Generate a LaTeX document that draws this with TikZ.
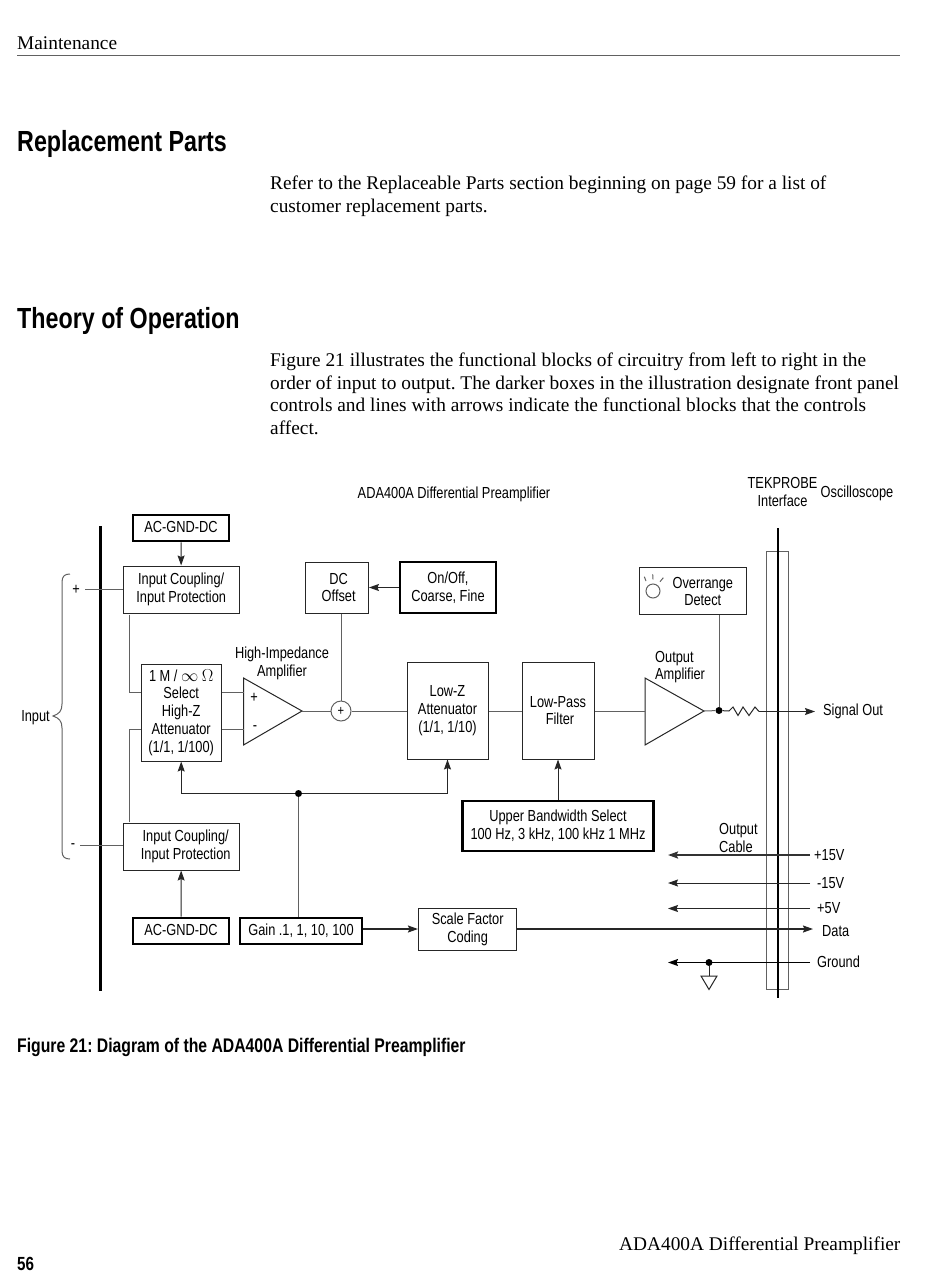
\documentclass[tikz,border=0pt]{standalone}
\usepackage{fontspec}
\setmainfont{Liberation Serif}
\newfontfamily\narrowsans[FakeStretch=0.80]{Liberation Sans}
\newfontfamily\headsans[FakeStretch=0.80]{Liberation Sans Bold}
\usetikzlibrary{arrows.meta}
\definecolor{linegray}{gray}{0.38}
\frenchspacing
\tikzset{
  lbl/.style={font=\narrowsans\fontsize{16}{17.8}\selectfont,align=center,inner sep=0pt,text=black},
  box/.style={lbl,draw=black!85,line width=1pt,fill=white},
  ctl/.style={lbl,draw=black,line width=2.6pt,fill=white},
  wire/.style={draw=linegray,line width=1pt},
  tip/.style={-{Stealth[length=10pt,width=7pt,inset=1.5pt]}},
  arw/.style={draw=black!85,line width=1pt,tip},
  darw/.style={draw=black!85,line width=1.5pt,tip},
  bus/.style={draw=black,line width=2.6pt},
  dotn/.style={circle,fill=black,inner sep=0pt,minimum size=7pt},
  body/.style={font=\fontsize{19.35}{23}\selectfont,anchor=base west,inner sep=0pt,align=left},
  head/.style={font=\headsans\fontsize{29.1}{30}\selectfont,anchor=base west,inner sep=0pt},
}
\begin{document}
\begin{tikzpicture}[x=1pt,y=-1pt]
\useasboundingbox (0,0) rectangle (950,1272);
\fill[white] (0,0) rectangle (950,1272);
% page text
\node[body] (mt) at (17,49) {Maintenance};
\coordinate (ruleA) at (17,55.5); \coordinate (ruleB) at (900,55.5);
\draw[wire] (ruleA) -- (ruleB);
\node[head] (h1) at (17,151) {Replacement Parts};
\node[body] (p1a) at (270,189) {Refer to the Replaceable Parts section beginning on page 59 for a list of};
\node[body] (p1b) at (270,212) {customer replacement parts.};
\node[head] (h2) at (17,328) {Theory of Operation};
\node[body] (p2a) at (270,366) {Figure 21 illustrates the functional blocks of circuitry from left to right in the};
\node[body] (p2b) at (270,389) {order of input to output. The darker boxes in the illustration designate front panel};
\node[body] (p2c) at (270,411) {controls and lines with arrows indicate the functional blocks that the controls};
\node[body] (p2d) at (270,434) {affect.};
\node[font=\headsans\fontsize{19.7}{20}\selectfont,anchor=base west,inner sep=0pt] (cap) at (17,1052) {Figure 21: Diagram of the ADA400A Differential Preamplifier};
\node[body] (ft) at (619,1250) {ADA400A Differential Preamplifier};
\node[font=\headsans\fontsize{19}{20}\selectfont,anchor=base west,inner sep=0pt] (pg) at (17,1270) {56};
% bus lines
\coordinate (busLa) at (100.5,526); \coordinate (busLb) at (100.5,991);
\draw[bus] (busLa) -- (busLb);
\node[draw=linegray,line width=1pt,minimum width=22pt,minimum height=438pt,inner sep=0pt] (iface) at (777,770) {};
\coordinate (busRa) at (778,528); \coordinate (busRb) at (778,998);
\draw[bus] (busRa) -- (busRb);
% brace
\draw[draw=linegray,line width=1pt] (70,574) .. controls (65,574) and (62,576) .. (62,582) -- (62,704) .. controls (62,711) and (59,714) .. (53,716) .. controls (59,718) and (62,721) .. (62,728) -- (62,851) .. controls (62,857) and (65,859) .. (70,859);
% boxes
\node[ctl,minimum width=96pt,minimum height=26pt] (ac1) at (181,528) {\raisebox{1.5pt}{AC-GND-DC}};
\node[box,minimum width=116pt,minimum height=47pt] (ic1) at (181.2,589.5) {Input Coupling/\\Input Protection};
\node[box,minimum width=80pt,minimum height=97pt] (sel) at (181.2,712.5) {1 M / {\fontsize{17}{17}\selectfont$\infty$} $\Omega$\\Select\\High-Z\\Attenuator\\(1/1, 1/100)};
\node[box,minimum width=116pt,minimum height=47pt] (ic2) at (181.2,846.5) {\hspace*{9pt}Input Coupling/\\\hspace*{9pt}Input Protection};
\node[ctl,minimum width=96pt,minimum height=26pt] (ac2) at (181,931) {\raisebox{1.5pt}{AC-GND-DC}};
\node[ctl,minimum width=122pt,minimum height=26pt] (gain) at (301,931) {\raisebox{1.5pt}{Gain .1, 1, 10, 100}};
\node[box,minimum width=98.5pt,minimum height=42pt] (scale) at (467.7,929) {Scale Factor\\Coding};
\node[box,minimum width=62.5pt,minimum height=51pt] (dc) at (337.2,587.5) {\hspace*{3pt}DC\\\hspace*{3pt}Offset};
\node[ctl,minimum width=96pt,minimum height=51pt] (onoff) at (448,587.5) {On/Off,\\Coarse, Fine};
\node[box,minimum width=81pt,minimum height=97pt] (lowz) at (447.5,710.5) {Low-Z\\Attenuator\\(1/1, 1/10)};
\node[box,minimum width=72pt,minimum height=97pt] (lowp) at (558,710.5) {Low-Pass\\\hspace*{4pt}Filter};
\node[ctl,minimum width=191pt,minimum height=50pt] (ubw) at (558,826) {Upper Bandwidth Select\\100 Hz, 3 kHz, 100 kHz 1 MHz};
\node[box,minimum width=107pt,minimum height=47pt] (over) at (692.5,591) {};
\node[lbl] (overt) at (702.8,591.5) {Overrange\\Detect};
\node[draw=linegray,circle,line width=1pt,minimum size=14pt,inner sep=0pt] (lamp) at (653,591) {};
\coordinate (ra1) at (644.3,576.7); \coordinate (ra2) at (646,581);
\coordinate (rb1) at (652.7,574.3); \coordinate (rb2) at (653,579.3);
\coordinate (rc1) at (663.3,577.7); \coordinate (rc2) at (660,581.7);
\draw[wire] (ra1) -- (ra2) (rb1) -- (rb2) (rc1) -- (rc2);
% amplifiers
\coordinate (a1a) at (243.5,678); \coordinate (a1b) at (243.5,745); \coordinate (a1o) at (302,711);
\draw[draw=black!85,line width=1pt] (a1a) -- (a1o) -- (a1b) -- cycle;
\coordinate (a2a) at (645,678); \coordinate (a2b) at (645,745); \coordinate (a2o) at (704,711);
\draw[draw=black!85,line width=1pt] (a2a) -- (a2o) -- (a2b) -- cycle;
\node[lbl] (plus) at (254,698) {+};
\node[lbl] (minus) at (255,728) {-};
\node[draw=linegray,circle,line width=1pt,minimum size=20pt,inner sep=0pt,font=\narrowsans\fontsize{14}{14}\selectfont] (sum) at (341,711) {+};
% labels
\node[lbl] (tt) at (454,494.5) {ADA400A Differential Preamplifier};
\node[lbl] (tek) at (782.5,492) {TEKPROBE\\Interface};
\node[lbl] (osc) at (857,493) {Oscilloscope};
\node[lbl] (hia) at (282,663) {High-Impedance\\Amplifier};
\node[lbl,align=left,anchor=west] (oa) at (655,667) {Output\\Amplifier};
\node[lbl,align=left,anchor=west] (oc) at (719,838) {Output\\Cable};
\node[lbl] (inp) at (35.5,717.5) {Input};
\node[lbl] (ip) at (76,590) {+};
\node[lbl] (im) at (73,846.5) {-};
\node[lbl,anchor=west] (sout) at (823,711) {Signal Out};
\node[lbl,anchor=west] (v15p) at (814,855) {+15V};
\node[lbl,anchor=west] (v15m) at (817,883) {-15V};
\node[lbl,anchor=west] (v5) at (817,908) {+5V};
\node[lbl,anchor=west] (data) at (822,931) {Data};
\node[lbl,anchor=west] (gnd) at (817,961.5) {Ground};
% connectors
\draw[arw] (ac1) -- (ic1);
\coordinate (imw) at (80,845); \coordinate (ipw) at (85,589);
\draw[wire] (imw) -- (ic2.west |- imw);
\draw[wire] (ipw) -- (ic1.west |- ipw);
\coordinate (i1) at (129,614.5); \coordinate (i1c) at (129,692);
\coordinate (i2) at (129,822); \coordinate (i2c) at (129,729);
\draw[wire] (i1) -- (i1c) -- (sel.west |- i1c);
\draw[wire] (i2) -- (i2c) -- (sel.west |- i2c);
\draw[wire] (sel.east |- i1c) -- (a1a |- i1c);
\draw[wire] (sel.east |- i2c) -- (a1a |- i2c);
\draw[wire] (a1o) -- (sum);
\draw[wire] (sum) -- (lowz.west |- sum);
\draw[wire] (dc.south -| sum) -- (sum);
\draw[arw] (onoff.west) -- (dc.east);
\draw[wire] (lowz.east |- a1o) -- (lowp.west |- a1o);
\draw[wire] (lowp.east |- a1o) -- (a2a |- a1o);
\node[dotn] (jo) at (719,710.5) {};
\draw[wire] (a2o) -- (jo);
\draw[wire] (jo |- over.south) -- (jo);
\coordinate (r0) at (729,711);
\draw[draw=black!85,line width=1pt] (jo) -- (r0) -- (733,707) -- (738,715.5) -- (743,707) -- (749,715.5) -- (755,707) -- (759,711.5);
\coordinate (r1) at (759,711.5); \coordinate (so) at (815,711.5);
\draw[arw] (r1) -- (so);
\node[dotn] (jg) at (298.5,793.5) {};
\draw[wire] (gain.north -| jg) -- (jg);
\coordinate (gl) at (181.2,793.5); \coordinate (gr) at (447.5,793.5);
\draw[arw] (jg) -- (gl) -- (sel.south);
\draw[arw] (jg) -- (gr) -- (lowz.south);
\draw[arw] (ac2) -- (ic2);
\draw[darw] (gain.east |- scale) -- (scale.west);
\draw[arw] (ubw.north) -- (lowp.south);
\coordinate (dr) at (813,929);
\draw[darw] (scale.east) -- (dr);
\coordinate (pa) at (810,855); \coordinate (pb) at (668,855);
\draw[draw=black!80,line width=1.8pt,tip] (pa) -- (pb);
\coordinate (ma) at (810,883); \coordinate (mb) at (668,883);
\draw[arw] (ma) -- (mb);
\coordinate (fa) at (810,908.5); \coordinate (fb) at (668,908.5);
\draw[arw] (fa) -- (fb);
\coordinate (ga) at (810,962.5); \coordinate (gb) at (668,962.5);
\draw[draw=black,line width=1.2pt,tip] (ga) -- (gb);
\node[dotn] (jgnd) at (709,962.5) {};
\coordinate (tg) at (709,976);
\draw[draw=black!85,line width=1pt] (jgnd) -- (tg);
\coordinate (tl) at (701,976); \coordinate (tr) at (717,976); \coordinate (tb) at (709,989.5);
\draw[draw=black!85,line width=1pt] (tl) -- (tr) -- (tb) -- cycle;
\end{tikzpicture}
\end{document}
